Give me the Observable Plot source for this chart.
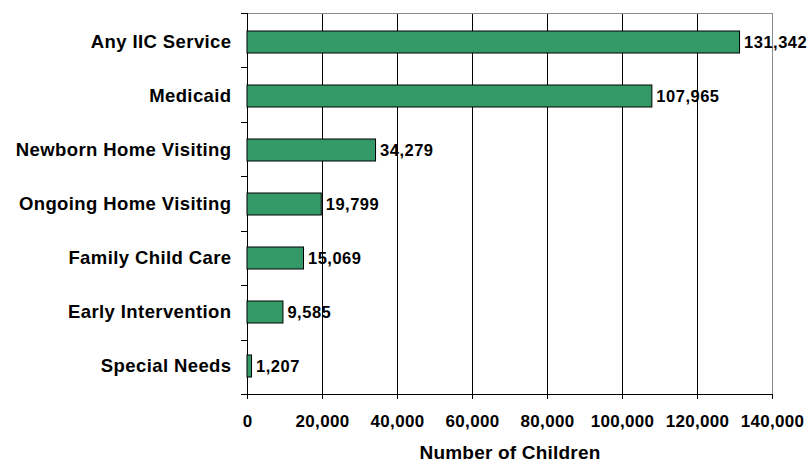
<!DOCTYPE html>
<html>
<head>
<meta charset="utf-8">
<script src="https://cdn.jsdelivr.net/npm/d3@7"></script>
<script src="https://cdn.jsdelivr.net/npm/@observablehq/plot@0.6"></script>
<style>
  html, body { margin: 0; padding: 0; background: #fff; }
</style>
</head>
<body>
<div id="chart"></div>
<script>
const categories = ["Any IIC Service", "Medicaid", "Newborn Home Visiting", "Ongoing Home Visiting", "Family Child Care", "Early Intervention", "Special Needs"];
const values = [131342, 107965, 34279, 19799, 15069, 9585, 1207];
const xTicks = [0, 20000, 40000, 60000, 80000, 100000, 120000, 140000];
const xTitle = "Number of Children";

const data = categories.map((c, i) => ({cat: c, value: values[i]}));
const fmt = d3.format(",");

const plot = Plot.plot({
  width: 811,
  height: 464,
  marginLeft: 247,
  marginRight: 39,
  marginTop: 13,
  marginBottom: 70,
  x: {domain: [0, 140000], ticks: xTicks, tickFormat: fmt},
  y: {domain: categories, paddingInner: 0.6, paddingOuter: 0.3},
  style: {fontFamily: "'Liberation Sans', Arial, sans-serif", fontWeight: "bold", background: "#fff", color: "#000"},
  marks: [
    Plot.ruleX(xTicks.slice(1, -1), {stroke: "#000", strokeWidth: 1}),
    Plot.frame({stroke: "#8c8c8c"}),
    Plot.ruleX([0], {stroke: "#000"}),
    Plot.barX(data, {x: "value", y: "cat", fill: "#339966", stroke: "#000", strokeWidth: 1}),
    Plot.text(data, {x: "value", y: "cat", text: d => fmt(d.value), textAnchor: "start", dx: 4, fontSize: 16.5, fill: "#000"}),
    Plot.axisY({tickSize: 0, tickPadding: 16, fontSize: 18.5, label: null}),
    Plot.axisX({tickSize: 5, tickPadding: 15, fontSize: 17, label: null}),
    Plot.text([xTitle], {text: d => d, frameAnchor: "bottom", dy: 64, fontSize: 19, fill: "#000"})
  ]
});

// category boundary ticks on the left axis and the bottom axis line, from the scales
const svg = d3.select(plot);
const xs = plot.scale("x"), ys = plot.scale("y");
const xpos = v => xs.range[0] + (v - xs.domain[0]) / (xs.domain[1] - xs.domain[0]) * (xs.range[1] - xs.range[0]);
const [yTop, yBottom] = ys.range;
const step = (yBottom - yTop) / categories.length;
const g = svg.append("g").attr("stroke", "#000").attr("stroke-width", 1);
d3.range(categories.length + 1).forEach(i => {
  const y = Math.round(yTop + i * step) + 0.5;
  g.append("line").attr("x1", xpos(0) - 6).attr("x2", xpos(0) + 0.5).attr("y1", y).attr("y2", y);
});
g.append("line").attr("x1", xpos(xs.domain[0])).attr("x2", xpos(xs.domain[1]) + 0.5).attr("y1", yBottom + 0.5).attr("y2", yBottom + 0.5);

svg.selectAll('g[aria-label="y-axis tick label"] text').attr("letter-spacing", "0.4px");
svg.selectAll('g[aria-label="x-axis tick label"] text').attr("letter-spacing", "0.3px");
const textGroups = svg.selectAll('g[aria-label="text"]').nodes();
d3.select(textGroups[0]).selectAll("text").attr("letter-spacing", "0.5px");
d3.select(textGroups[1]).selectAll("text").attr("letter-spacing", "0.2px");

document.getElementById("chart").appendChild(plot);
</script>
</body>
</html>
